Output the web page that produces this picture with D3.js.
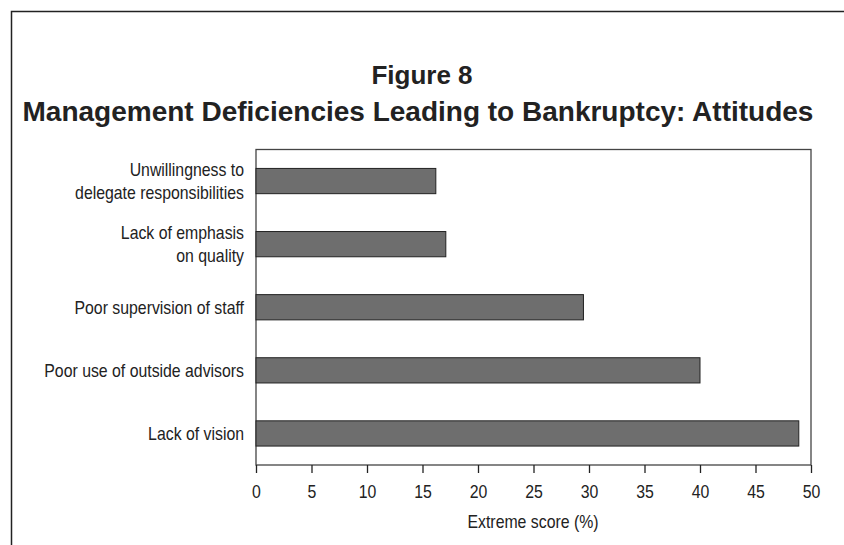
<!DOCTYPE html>
<html>
<head>
<meta charset="utf-8">
<style>
  body { margin: 0; background: #fff; }
  svg { display: block; }
  .tick text { font-family: "Liberation Sans Narrow", "Arial Narrow", "Liberation Sans", sans-serif; font-size: 18px; fill: #222; }
</style>
</head>
<body>
<svg width="844" height="545"></svg>
<script src="https://d3js.org/d3.v7.min.js"></script>
<script>

    var categories = [
        ["Unwillingness to", "delegate responsibilities"],
        ["Lack of emphasis", "on quality"],
        ["Poor supervision of staff"],
        ["Poor use of outside advisors"],
        ["Lack of vision"]
    ];
    var values = [16.2, 17.1, 29.5, 40.0, 48.9];
    var ticks = [0, 5, 10, 15, 20, 25, 30, 35, 40, 45, 50];

    var svg = d3.select("svg");
    var narrow = "'Liberation Sans Narrow', 'Arial Narrow', 'Liberation Sans', sans-serif";
    var squeeze = "scale(0.88,1)";   // no narrow font here, so squeeze the regular one

    // outer frame, runs off the right and bottom of the page
    svg.append("rect")
        .attr("x", 11.5).attr("y", 11.5)
        .attr("width", 900).attr("height", 600)
        .attr("fill", "none")
        .attr("stroke", "#222")
        .attr("stroke-width", 1.5);

    svg.append("text")
        .attr("x", 422).attr("y", 84)
        .attr("text-anchor", "middle")
        .attr("font-family", "'Liberation Sans', Arial, sans-serif")
        .attr("font-weight", "bold")
        .attr("font-size", 26)
        .attr("fill", "#222")
        .text("Figure 8");

    svg.append("text")
        .attr("x", 418).attr("y", 121)
        .attr("text-anchor", "middle")
        .attr("font-family", "'Liberation Sans', Arial, sans-serif")
        .attr("font-weight", "bold")
        .attr("font-size", 28)
        .attr("fill", "#222")
        .text("Management Deficiencies Leading to Bankruptcy: Attitudes");

    var pLeft = 256, pRight = 811, pTop = 149.5, pBottom = 465;

    var x = d3.scaleLinear()
        .domain([0, 50])
        .range([pLeft, pRight]);

    var y = d3.scaleBand()
        .domain(d3.range(categories.length))
        .range([pTop, pBottom])
        .paddingInner(0.6)
        .paddingOuter(0.3);

    // plot frame
    svg.append("rect")
        .attr("x", pLeft).attr("y", pTop)
        .attr("width", pRight - pLeft).attr("height", pBottom - pTop)
        .attr("fill", "none")
        .attr("stroke", "#444")
        .attr("stroke-width", 1.3);

    svg.selectAll("rect.bar")
        .data(values)
        .enter().append("rect")
        .attr("class", "bar")
        .attr("x", x(0))
        .attr("y", function(d, i) { return y(i); })
        .attr("width", function(d) { return x(d) - x(0); })
        .attr("height", y.bandwidth())
        .attr("fill", "#6e6e6e")
        .attr("stroke", "#222")
        .attr("stroke-width", 1);

    // category labels
    var lab = svg.selectAll("text.cat")
        .data(categories)
        .enter().append("text")
        .attr("class", "cat")
        .attr("text-anchor", "end")
        .attr("transform", "translate(244,0) " + squeeze)
        .attr("font-family", narrow)
        .attr("font-size", 18)
        .attr("fill", "#222");

    lab.each(function(lines, i) {
        var cy = y(i) + y.bandwidth() / 2;
        var lh = 23;
        var y0 = cy - (lines.length - 1) * lh / 2 + 6.5;
        d3.select(this).selectAll("tspan")
            .data(lines)
            .enter().append("tspan")
            .attr("x", 0)
            .attr("y", function(d, j) { return y0 + j * lh; })
            .text(function(d) { return d; });
    });

    var ax = svg.append("g")
        .attr("transform", "translate(0," + pBottom + ")")
        .call(d3.axisBottom(x).tickValues(ticks).tickSize(8).tickPadding(12).tickSizeOuter(0));
    ax.select(".domain").remove();
    ax.selectAll(".tick line").attr("stroke", "#222").attr("stroke-width", 1.3);
    ax.selectAll(".tick text").attr("transform", squeeze);

    svg.append("text")
        .attr("transform", "translate(533,528) " + squeeze)
        .attr("text-anchor", "middle")
        .attr("font-family", narrow)
        .attr("font-size", 18)
        .attr("fill", "#222")
        .text("Extreme score (%)");

</script>
</body>
</html>
